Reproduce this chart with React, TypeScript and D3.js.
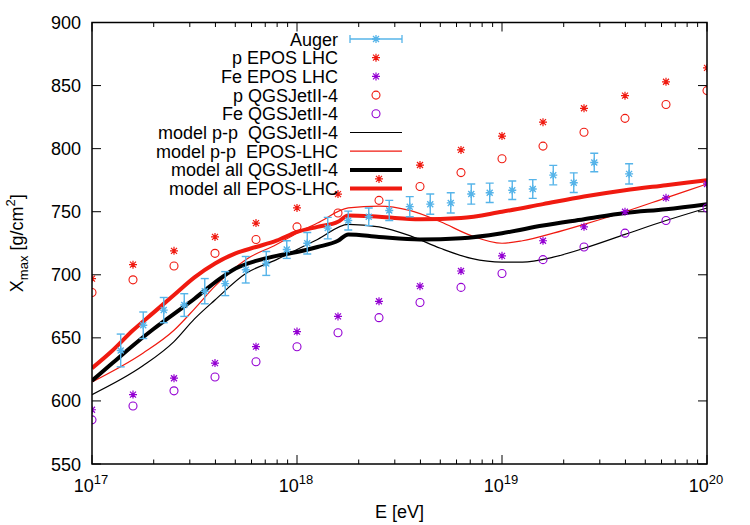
import * as d3 from 'd3';

// simulated Xmax (points), log10(E/eV)
const simLgE = [17.0, 17.2, 17.4, 17.6, 17.8, 18.0, 18.2, 18.4, 18.6, 18.8, 19.0, 19.2, 19.4, 19.6, 19.8, 20.0];
const pEpos = [697, 708, 719, 730, 741, 753, 764, 776, 787, 799, 810, 821, 832, 842, 853, 864];
const feEpos = [593, 605, 618, 630, 643, 655, 667, 679, 691, 703, 715, 727, 738, 750, 761, 772];
const pQgs = [686, 696, 707, 717, 728, 738, 749, 759, 770, 781, 792, 802, 813, 824, 835, 846];
const feQgs = [585, 596, 608, 619, 631, 643, 654, 666, 678, 690, 701, 712, 722, 733, 743, 753];

// Auger data
const augerLgE = [17.14, 17.25, 17.35, 17.45, 17.55, 17.65, 17.75, 17.85, 17.95, 18.05, 18.15, 18.25, 18.35, 18.45, 18.55, 18.65, 18.75, 18.85, 18.94, 19.05, 19.15, 19.25, 19.35, 19.45, 19.62];
const augerXmax = [640, 660, 672, 676, 687, 693, 704, 709, 720, 725, 737, 743, 746, 751, 754, 756, 757, 764, 765, 767, 768, 779, 773, 789, 780];
const augerErr = [13, 10.5, 10, 9, 10, 9.5, 10.5, 9.5, 7, 8.5, 8.5, 7.5, 7, 8, 8, 8, 8, 8, 7.7, 7.3, 7.4, 7.7, 7.8, 7.3, 8];

// model curves
const ppQgsLgE = [17.0, 17.25, 17.4, 17.5, 17.6, 17.75, 17.9, 18.0, 18.1, 18.25, 18.4, 18.55, 18.7, 18.85, 19.0, 19.1, 19.25, 19.4, 19.6, 19.8, 20.0];
const ppQgs = [605, 628, 647, 665, 680, 701, 712, 720, 728, 740, 738, 731, 721, 713, 710, 710, 714, 721, 732, 743, 753];
const ppEposLgE = [17.0, 17.25, 17.4, 17.5, 17.6, 17.75, 17.9, 18.0, 18.1, 18.25, 18.4, 18.55, 18.7, 18.85, 19.0, 19.1, 19.25, 19.4, 19.6, 19.8, 20.0];
const ppEpos = [615, 638, 656, 673, 691, 712, 724, 733, 741, 753, 754.5, 751, 742, 731, 725, 727, 733, 740, 750, 761, 772];
const allLgE = [17.0, 17.1, 17.2, 17.3, 17.4, 17.5, 17.6, 17.7, 17.8, 17.9, 18.0, 18.1, 18.2, 18.25, 18.4, 18.6, 18.8, 19.0, 19.2, 19.4, 19.6, 19.8, 20.0];
const allQgs = [616, 630, 644, 657, 669, 681, 694, 705, 711, 715, 718, 722, 727, 732, 730, 728, 729, 733, 739, 744, 749, 752, 756];
const allEpos = [626, 640, 656, 670, 684, 698, 709, 717, 722, 727, 734, 738, 742, 747, 746, 744, 745, 750, 756, 762, 767, 771, 775];

const yTicks = [550, 600, 650, 700, 750, 800, 850, 900];
const xDecades = [17, 18, 19, 20];

const RED = '#f01a10';
const PURPLE = '#9400d3';
const BLUE = '#56b4e9';
const FONT = '"Liberation Sans", Arial, sans-serif';

const star = (cx: number, cy: number, s = 4) => {
  const d = s * 0.75;
  return `M${cx - s},${cy}H${cx + s}M${cx},${cy - s}V${cy + s}M${cx - d},${cy - d}L${cx + d},${cy + d}M${cx - d},${cy + d}L${cx + d},${cy - d}`;
};

export default function App() {
  const x = d3.scaleLog().domain([1e17, 1e20]).range([92, 707]);
  const y = d3.scaleLinear().domain([550, 900]).range([464, 22.5]);
  const [x0, x1] = x.range();
  const [y0, y1] = y.range();

  const line = (lg: number[], v: number[]) =>
    d3
      .line<number>()
      .x((_, i) => x(10 ** lg[i]))
      .y((d) => y(d))
      .curve(d3.curveMonotoneX)(v) || '';

  const curves = [
    { label: 'model p-p  QGSJetII-4', lg: ppQgsLgE, v: ppQgs, color: 'black', w: 1.2 },
    { label: 'model p-p  EPOS-LHC', lg: ppEposLgE, v: ppEpos, color: RED, w: 1.2 },
    { label: 'model all QGSJetII-4', lg: allLgE, v: allQgs, color: 'black', w: 4 },
    { label: 'model all EPOS-LHC', lg: allLgE, v: allEpos, color: RED, w: 4 },
  ];
  const points = [
    { label: 'p EPOS LHC', v: pEpos, color: RED, kind: 'star' },
    { label: 'Fe EPOS LHC', v: feEpos, color: PURPLE, kind: 'star' },
    { label: 'p QGSJetII-4', v: pQgs, color: RED, kind: 'circle' },
    { label: 'Fe QGSJetII-4', v: feQgs, color: PURPLE, kind: 'circle' },
  ];

  const minor = x.ticks().filter((t) => Math.abs(Math.log10(t) - Math.round(Math.log10(t))) > 1e-6);

  const legendX = 338;
  const sx0 = 350;
  const sx1 = 402;
  const rowY = (i: number) => 39 + i * 18.7;

  const marker = (kind: string, cx: number, cy: number, color: string, key: string | number) =>
    kind === 'star' ? (
      <path key={key} d={star(cx, cy)} stroke={color} strokeWidth={1.2} fill="none" />
    ) : (
      <circle key={key} cx={cx} cy={cy} r={4} stroke={color} strokeWidth={1.1} fill="none" />
    );

  return (
    <div style={{ position: 'fixed', left: 0, top: 0 }}>
      <svg width={750} height={525} style={{ display: 'block', background: 'white' }} fontFamily={FONT}>
        <defs>
          <clipPath id="plot">
            <rect x={x0} y={y1} width={x1 - x0} height={y0 - y1} />
          </clipPath>
        </defs>

        {/* ticks */}
        {yTicks.map((t) => (
          <g key={`y${t}`}>
            <line x1={x0} x2={x0 + 9} y1={y(t)} y2={y(t)} stroke="black" />
            <line x1={x1} x2={x1 - 9} y1={y(t)} y2={y(t)} stroke="black" />
            <text x={x0 - 11} y={y(t) + 6.5} textAnchor="end" fontSize={18}>
              {t}
            </text>
          </g>
        ))}
        {minor.map((t, i) => (
          <g key={`m${i}`}>
            <line x1={x(t)} x2={x(t)} y1={y0} y2={y0 - 4.5} stroke="black" />
            <line x1={x(t)} x2={x(t)} y1={y1} y2={y1 + 4.5} stroke="black" />
          </g>
        ))}
        {xDecades.map((p) => (
          <g key={`x${p}`}>
            <line x1={x(10 ** p)} x2={x(10 ** p)} y1={y0} y2={y0 - 9} stroke="black" />
            <line x1={x(10 ** p)} x2={x(10 ** p)} y1={y1} y2={y1 + 9} stroke="black" />
            <text x={x(10 ** p) - 1} y={492} textAnchor="middle" fontSize={18}>
              10
              <tspan fontSize={13} dy={-8}>
                {p}
              </tspan>
            </text>
          </g>
        ))}

        {/* data */}
        <g clipPath="url(#plot)">
          {curves.map((c) => (
            <path key={c.label} d={line(c.lg, c.v)} stroke={c.color} strokeWidth={c.w} fill="none" />
          ))}
          {points.map((p) =>
            p.v.map((v, i) => marker(p.kind, x(10 ** simLgE[i]), y(v), p.color, `${p.label}${i}`)),
          )}
          {augerXmax.map((v, i) => {
            const cx = x(10 ** augerLgE[i]);
            const top = y(v + augerErr[i]);
            const bot = y(v - augerErr[i]);
            return (
              <g key={`a${i}`} stroke={BLUE} strokeWidth={1.4} fill="none">
                <line x1={cx} x2={cx} y1={top} y2={bot} />
                <line x1={cx - 4} x2={cx + 4} y1={top} y2={top} />
                <line x1={cx - 4} x2={cx + 4} y1={bot} y2={bot} />
                <path d={star(cx, y(v))} />
              </g>
            );
          })}
        </g>

        {/* legend */}
        <g fontSize={18} textAnchor="end">
          <text x={legendX} y={rowY(0) + 6.5}>Auger</text>
          <g stroke={BLUE} strokeWidth={1.3}>
            <line x1={sx0} x2={sx1} y1={rowY(0)} y2={rowY(0)} />
            <line x1={sx0} x2={sx0} y1={rowY(0) - 4} y2={rowY(0) + 4} />
            <line x1={sx1} x2={sx1} y1={rowY(0) - 4} y2={rowY(0) + 4} />
            <path d={star((sx0 + sx1) / 2, rowY(0))} fill="none" />
          </g>
          {points.map((p, i) => (
            <g key={p.label}>
              <text x={legendX} y={rowY(i + 1) + 6.5}>
                {p.label}
              </text>
              {marker(p.kind, (sx0 + sx1) / 2, rowY(i + 1), p.color, 'm')}
            </g>
          ))}
          {curves.map((c, i) => (
            <g key={c.label}>
              <text x={legendX} y={rowY(i + 5) + 6.5} style={{ whiteSpace: 'pre' }}>
                {c.label}
              </text>
              <line x1={sx0} x2={sx1} y1={rowY(i + 5)} y2={rowY(i + 5)} stroke={c.color} strokeWidth={c.w} />
            </g>
          ))}
        </g>

        {/* border */}
        <rect x={x0} y={y1} width={x1 - x0} height={y0 - y1} fill="none" stroke="black" strokeWidth={1.5} />

        {/* axis labels */}
        <text x={(x0 + x1) / 2} y={518} textAnchor="middle" fontSize={18}>
          E [eV]
        </text>
        <text transform={`translate(23,${(y0 + y1) / 2}) rotate(-90)`} textAnchor="middle" fontSize={18}>
          X<tspan fontSize={13} dy={5}>max</tspan>
          <tspan dy={-5}> [g/cm</tspan>
          <tspan fontSize={13} dy={-8}>2</tspan>
          <tspan dy={8}>]</tspan>
        </text>
      </svg>
    </div>
  );
}
